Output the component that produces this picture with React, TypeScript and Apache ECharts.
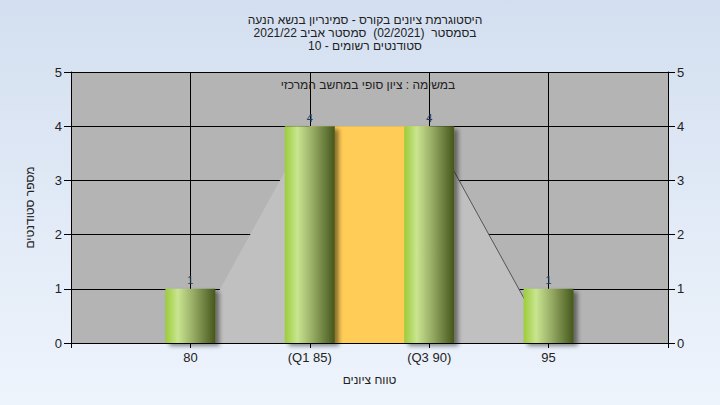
import React, { useEffect, useRef } from "react";
import * as echarts from "echarts";

const categories = ["", "80", "(Q1 85)", "(Q3 90)", "95", ""];
const barValues: (number | string)[] = ["-", 1, 4, 4, 1, "-"];
const curveValues: (number | string)[] = ["-", 0, 4, 4, 0, "-"];
const rightEdge: (number | string)[] = ["-", "-", "-", 4, 0, "-"];
const iqrBox = [[2, 3, 4]]; // from category index, to category index, height
const titleLines = [
  "היסטוגרמת ציונים בקורס - סמינריון בנשא הנעה",
  "בסמסטר  (02/2021)  סמסטר אביב 2021/22",
  "סטודנטים רשומים - 10",
];
const annotation = "במשימה : ציון סופי במחשב המרכזי";
const xName = "טווח ציונים";
const yName = "מספר סטודנטים";

const FONT = "'Liberation Sans', 'DejaVu Sans', Arial, sans-serif";

export default function App() {
  const ref = useRef<HTMLDivElement>(null);
  useEffect(() => {
    if (!ref.current) return;
    const chart = echarts.init(ref.current, undefined, { renderer: "svg" });
    const yAxisCommon = {
      type: "value" as const,
      min: 0,
      max: 5,
      interval: 1,
      axisLine: { show: true, lineStyle: { color: "#000", width: 1 } },
      axisTick: { show: true, length: 7, lineStyle: { color: "#000" } },
      axisLabel: { color: "#222", fontSize: 13, fontFamily: FONT, margin: 9 },
    };
    chart.setOption({
      animation: false,
      backgroundColor: new echarts.graphic.LinearGradient(0, 0, 0, 1, [
        { offset: 0, color: "#d3dff0" },
        { offset: 1, color: "#eef4fc" },
      ]),
      title: {
        text: titleLines.join("\n"),
        left: 360,
        textAlign: "center",
        top: 8,
        textStyle: { fontSize: 12, fontWeight: "normal", color: "#222", fontFamily: FONT, lineHeight: 13 },
      },
      grid: { left: 71, right: 52, top: 72, bottom: 62, show: true, backgroundColor: "#b4b4b4", borderWidth: 0 },
      xAxis: {
        type: "category",
        data: categories,
        boundaryGap: false,
        name: xName,
        nameLocation: "middle",
        nameGap: 31,
        nameTextStyle: { color: "#222", fontSize: 12, fontFamily: FONT },
        axisLine: { show: true, lineStyle: { color: "#000", width: 1 } },
        axisTick: { show: true, length: 5, alignWithLabel: true, interval: 0, lineStyle: { color: "#000" } },
        axisLabel: { color: "#222", fontSize: 13, fontFamily: FONT, interval: 0, margin: 8 },
        splitLine: { show: true, interval: 0, lineStyle: { color: "#000", width: 1 } },
      },
      yAxis: [
        {
          ...yAxisCommon,
          position: "left",
          name: yName,
          nameLocation: "middle",
          nameGap: 35,
          nameTextStyle: { color: "#222", fontSize: 12, fontFamily: FONT },
          splitLine: { show: true, lineStyle: { color: "#000", width: 1 } },
        },
        { ...yAxisCommon, position: "right", splitLine: { show: false } },
      ],
      graphic: [
        {
          type: "text",
          x: 368,
          y: 85,
          style: {
            text: annotation,
            fill: "#222",
            font: `12px ${FONT}`,
            textAlign: "center",
            textVerticalAlign: "middle",
          },
          z: 100,
        },
      ],
      series: [
        {
          type: "line",
          data: curveValues,
          symbol: "none",
          lineStyle: { width: 0 },
          areaStyle: { color: "#c0c0c0", opacity: 1 },
          z: 1,
          silent: true,
        },
        {
          type: "custom",
          data: iqrBox,
          z: 2,
          silent: true,
          renderItem: (params: any, api: any) => {
            const p1 = api.coord([api.value(0), api.value(2)]);
            const p2 = api.coord([api.value(1), 0]);
            return {
              type: "rect",
              shape: { x: p1[0], y: p1[1], width: p2[0] - p1[0], height: p2[1] - p1[1] },
              style: { fill: "#ffcd57" },
            };
          },
        },
        {
          type: "line",
          data: rightEdge,
          symbol: "none",
          lineStyle: { width: 1, color: "#555" },
          z: 3,
          silent: true,
        },
        {
          type: "bar",
          data: barValues,
          barWidth: 50,
          z: 5,
          itemStyle: {
            color: new echarts.graphic.LinearGradient(0, 0, 1, 0, [
              { offset: 0, color: "#9ccc3a" },
              { offset: 0.25, color: "#c9e590" },
              { offset: 0.55, color: "#98ad66" },
              { offset: 1, color: "#45571b" },
            ]),
            shadowColor: "rgba(0,0,0,0.45)",
            shadowOffsetX: 4,
            shadowOffsetY: 3,
            shadowBlur: 4,
          },
          label: {
            show: true,
            position: "top",
            distance: 3,
            color: "#2a3550",
            fontSize: 11,
            fontFamily: FONT,
          },
        },
      ],
    });
    return () => chart.dispose();
  }, []);
  return (
    <div
      ref={ref}
      style={{ position: "fixed", left: 0, top: 0, width: 720, height: 405 }}
    />
  );
}
